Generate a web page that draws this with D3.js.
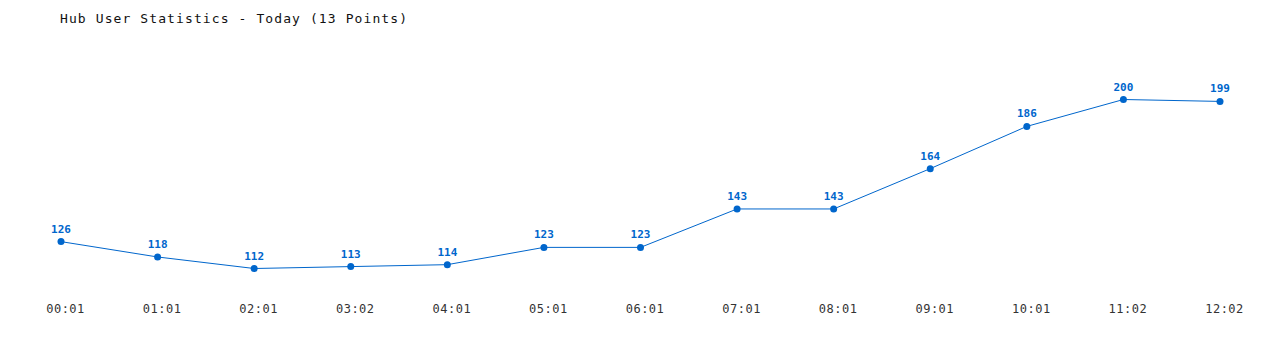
<!DOCTYPE html>
<html>
<head>
<meta charset="utf-8">
<script src="https://cdn.jsdelivr.net/npm/d3@7"></script>
<style>
  body { margin: 0; background: #fff; }
  .title { font-family: "DejaVu Sans Mono", monospace; font-size: 13px; letter-spacing: 1.1px; fill: #111; }
  .tick-label { font-family: "DejaVu Sans Mono", monospace; font-size: 12px; letter-spacing: 0.5px; fill: #333; }
  .value { font-family: "DejaVu Sans Mono", monospace; font-size: 11px; font-weight: bold; fill: #0066cc; }
</style>
</head>
<body>
<script>
let times = ['00:01','01:01','02:01','03:02','04:01','05:01','06:01','07:01','08:01','09:01','10:01','11:02','12:02'];
let users = [126, 118, 112, 113, 114, 123, 123, 143, 143, 164, 186, 200, 199];

let width = 1280;
let height = 350;

let svg = d3.select('body').append('svg')
    .attr('width', width)
    .attr('height', height);

// x is a point scale over the times
let x = d3.scalePoint().domain(times).range([61, 1220]);

// y is fitted to the extent of the values
let y = d3.scaleLinear().domain(d3.extent(users)).range([268.5, 99.5]);

let data = times.map(function(t, i){ return { time: t, users: users[i] }; });

svg.append('text')
    .attr('class', 'title')
    .attr('x', 60)
    .attr('y', 23)
    .text('Hub User Statistics - Today (13 Points)');

let line = d3.line()
  .x(function(d){ return x(d.time); })
  .y(function(d){ return y(d.users); });

svg.append('path')
    .datum(data)
    .attr('fill', 'none')
    .attr('stroke', '#0066cc')
    .attr('stroke-width', 1)
    .attr('d', line);

svg.selectAll('circle')
    .data(data)
  .enter().append('circle')
    .attr('cx', function(d){ return x(d.time); })
    .attr('cy', function(d){ return y(d.users); })
    .attr('r', 3.5)
    .attr('fill', '#0066cc');

svg.selectAll('.value')
    .data(data)
  .enter().append('text')
    .attr('class', 'value')
    .attr('text-anchor', 'middle')
    .attr('x', function(d){ return x(d.time); })
    .attr('y', function(d){ return y(d.users) - 9; })
    .text(function(d){ return d.users; });

// bottom axis, no domain line or ticks; labels sit a little right of the points
let xAxis = d3.axisBottom(x).tickSize(0).tickPadding(0);
let gx = svg.append('g')
    .attr('transform', 'translate(4,304)')
    .call(xAxis);
gx.select('.domain').remove();
gx.selectAll('text')
    .attr('class', 'tick-label')
    .attr('fill', null)
    .attr('font-family', null)
    .attr('font-size', null);
</script>
</body>
</html>
